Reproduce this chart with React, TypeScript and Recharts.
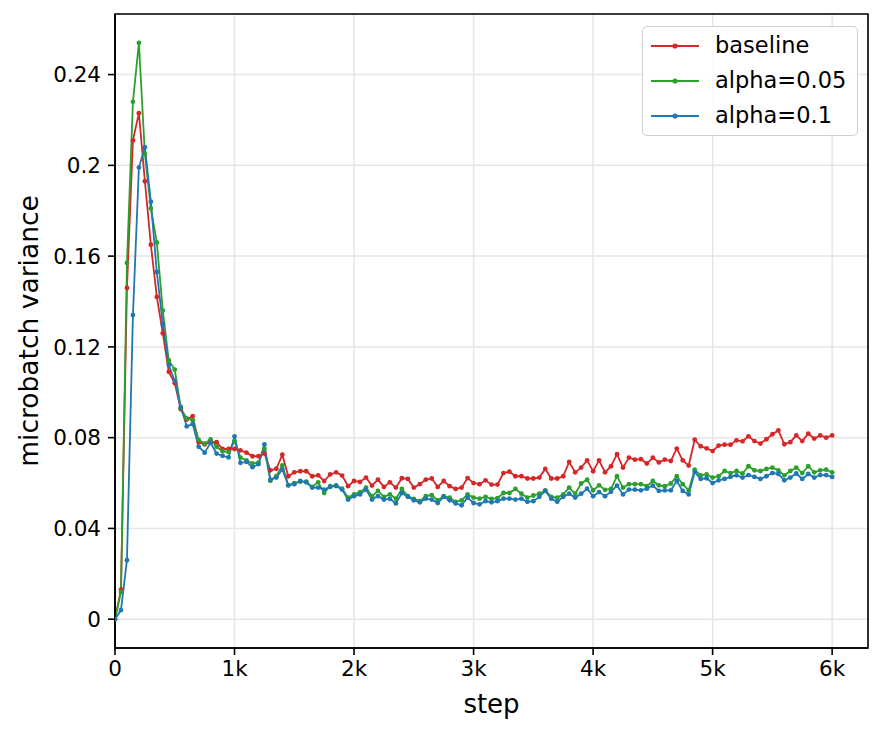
import { CartesianGrid, Line, LineChart, ReferenceArea, XAxis, YAxis } from 'recharts';

const STEP = 50;

const baseline = [
  0, 0.013, 0.146, 0.211, 0.223, 0.193, 0.165, 0.142, 0.126, 0.109,
  0.104, 0.0925, 0.088, 0.0895, 0.078, 0.077, 0.078, 0.078, 0.075, 0.075,
  0.075, 0.0744, 0.0734, 0.0718, 0.0718, 0.073, 0.0656, 0.0663, 0.0725, 0.063,
  0.0647, 0.0652, 0.0652, 0.063, 0.0634, 0.0609, 0.0638, 0.0647, 0.0633, 0.0586,
  0.0609, 0.0605, 0.0624, 0.0589, 0.0615, 0.0583, 0.0603, 0.058, 0.0621, 0.0618,
  0.058, 0.0595, 0.0615, 0.062, 0.0583, 0.0609, 0.0586, 0.0574, 0.058, 0.0622,
  0.06, 0.0595, 0.0612, 0.0593, 0.0593, 0.0644, 0.065, 0.063, 0.063, 0.062,
  0.062, 0.0624, 0.0662, 0.062, 0.062, 0.063, 0.0693, 0.0647, 0.0668, 0.07,
  0.0652, 0.07, 0.0647, 0.0674, 0.0727, 0.0668, 0.0712, 0.0703, 0.0705, 0.0686,
  0.0712, 0.0691, 0.0703, 0.0697, 0.0752, 0.07, 0.0677, 0.0791, 0.0762, 0.0753,
  0.0741, 0.0765, 0.0769, 0.0769, 0.0788, 0.0784, 0.0806, 0.0785, 0.0774, 0.0793,
  0.0815, 0.0832, 0.0771, 0.078, 0.081, 0.0785, 0.0818, 0.0796, 0.081, 0.08,
  0.081,
];

const alpha005 = [
  0, 0.012, 0.157, 0.228, 0.254, 0.205, 0.181, 0.166, 0.136, 0.114,
  0.11, 0.093, 0.0885, 0.0877, 0.079, 0.0774, 0.0792, 0.076, 0.074, 0.0737,
  0.0785, 0.0712, 0.07, 0.0686, 0.069, 0.0752, 0.061, 0.063, 0.0678, 0.059,
  0.06, 0.0606, 0.0606, 0.0583, 0.0603, 0.0556, 0.0586, 0.059, 0.0575, 0.0536,
  0.055, 0.056, 0.058, 0.0542, 0.0565, 0.0539, 0.055, 0.0531, 0.0574, 0.0542,
  0.053, 0.052, 0.0542, 0.0547, 0.0524, 0.0542, 0.0536, 0.0517, 0.0524, 0.055,
  0.0536, 0.0531, 0.0539, 0.053, 0.0533, 0.0556, 0.0556, 0.0574, 0.0553, 0.0536,
  0.0545, 0.0553, 0.0568, 0.0539, 0.0536, 0.055, 0.058, 0.0553, 0.0598, 0.0615,
  0.0568, 0.059, 0.057, 0.0574, 0.063, 0.058, 0.0595, 0.0595, 0.0595, 0.0586,
  0.0609, 0.059, 0.0586, 0.0598, 0.063, 0.0595, 0.0568, 0.0659, 0.0634, 0.0638,
  0.0624, 0.063, 0.0653, 0.0644, 0.0653, 0.0642, 0.0674, 0.0656, 0.0653, 0.0662,
  0.0668, 0.0656, 0.0634, 0.0653, 0.0668, 0.0644, 0.0674, 0.0647, 0.0656, 0.0659,
  0.0647,
];

const alpha01 = [
  0, 0.004, 0.026, 0.134, 0.199, 0.208, 0.184, 0.153, 0.13, 0.112,
  0.105, 0.0935, 0.085, 0.086, 0.076, 0.0734, 0.0777, 0.073, 0.072, 0.0713,
  0.0806, 0.0689, 0.0693, 0.067, 0.0683, 0.077, 0.0615, 0.0624, 0.066, 0.059,
  0.0595, 0.0609, 0.0603, 0.058, 0.058, 0.0571, 0.0583, 0.0587, 0.0571, 0.0527,
  0.0542, 0.055, 0.0571, 0.0527, 0.0542, 0.0527, 0.053, 0.051, 0.0556, 0.0539,
  0.0524, 0.0515, 0.0531, 0.0527, 0.0512, 0.0539, 0.0524, 0.051, 0.0502, 0.0536,
  0.0512, 0.0506, 0.052, 0.0515, 0.052, 0.0531, 0.0531, 0.0527, 0.0531, 0.0517,
  0.052, 0.0539, 0.0565, 0.0531, 0.0518, 0.0539, 0.0553, 0.0536, 0.0553, 0.0575,
  0.0542, 0.056, 0.0542, 0.0562, 0.0589, 0.055, 0.0571, 0.0571, 0.0568, 0.0575,
  0.0589, 0.0565, 0.0568, 0.0568, 0.0609, 0.0565, 0.055, 0.0649, 0.0618, 0.0621,
  0.06, 0.0612, 0.0618, 0.0627, 0.0634, 0.0624, 0.0635, 0.0627, 0.0618, 0.063,
  0.0644, 0.064, 0.0612, 0.0624, 0.0642, 0.0618, 0.064, 0.0624, 0.0635, 0.0635,
  0.0627,
];

const xTicks = [0, 1000, 2000, 3000, 4000, 5000, 6000];
const yTicks = [0, 0.04, 0.08, 0.12, 0.16, 0.2, 0.24];

const X_DOMAIN: [number, number] = [0, 6300];
const Y_DOMAIN: [number, number] = [-0.0127, 0.2667];

const data = baseline.map((v, i) => ({
  step: i * STEP,
  baseline: v,
  a005: alpha005[i],
  a01: alpha01[i],
}));

const series = [
  { key: 'baseline', name: 'baseline', color: '#d62728' },
  { key: 'a005', name: 'alpha=0.05', color: '#2ca02c' },
  { key: 'a01', name: 'alpha=0.1', color: '#1f77b4' },
];

const FONT = '"DejaVu Sans", sans-serif';

// legend drawn as a plain overlay so it doesn't eat into the plot area
function LegendBox() {
  return (
    <div
      style={{
        position: 'absolute',
        left: 642,
        top: 26,
        border: '1.5px solid #d0d0d0',
        borderRadius: 5,
        background: 'rgba(255,255,255,0.85)',
        width: 216,
        height: 110,
        boxSizing: 'border-box',
        paddingTop: 1,
        fontFamily: FONT,
        fontSize: 22.5,
        color: '#000',
      }}
    >
      {series.map((s) => (
        <div key={s.key} style={{ display: 'flex', alignItems: 'center', height: 35 }}>
          <svg width={65} height={20} style={{ marginLeft: 7 }}>
            <line x1={1} y1={10} x2={49} y2={10} stroke={s.color} strokeWidth={2} />
            <circle cx={25} cy={10} r={2.6} fill={s.color} />
          </svg>
          <span style={{ lineHeight: '35px' }}>{s.name}</span>
        </div>
      ))}
    </div>
  );
}

export default function App() {
  return (
    <div style={{ position: 'absolute', left: 0, top: 0, width: 884, height: 734, background: '#fff' }}>
      <LineChart
        width={884}
        height={734}
        data={data}
        margin={{ top: 14, right: 16, bottom: 0, left: 0 }}
        style={{ fontFamily: FONT }}
      >
        <CartesianGrid stroke="#e6e6e6" strokeWidth={1.5} />
        <XAxis
          dataKey="step"
          type="number"
          domain={X_DOMAIN}
          allowDataOverflow
          ticks={xTicks}
          tickFormatter={(v: number) => (v === 0 ? '0' : `${v / 1000}k`)}
          height={86}
          tickSize={7}
          tickMargin={6}
          stroke="#000"
          tick={{ fill: '#000', fontSize: 21.5 }}
          axisLine={{ stroke: '#000', strokeWidth: 1.6 }}
          tickLine={{ stroke: '#000', strokeWidth: 1.6 }}
          label={{ value: 'step', position: 'insideBottom', offset: 21, fill: '#000', fontSize: 26 }}
        />
        <YAxis
          type="number"
          domain={Y_DOMAIN}
          allowDataOverflow
          ticks={yTicks}
          tickFormatter={(v: number) => (v === 0 ? '0' : String(+v.toFixed(2)))}
          width={115}
          tickSize={7}
          tickMargin={7}
          stroke="#000"
          tick={{ fill: '#000', fontSize: 21.5 }}
          axisLine={{ stroke: '#000', strokeWidth: 1.6 }}
          tickLine={{ stroke: '#000', strokeWidth: 1.6 }}
          label={{
            value: 'microbatch variance',
            angle: -90,
            position: 'insideLeft',
            offset: 29,
            fill: '#000',
            fontSize: 26.5,
            style: { textAnchor: 'middle' },
          }}
        />
        <ReferenceArea
          x1={X_DOMAIN[0]}
          x2={X_DOMAIN[1]}
          y1={Y_DOMAIN[0]}
          y2={Y_DOMAIN[1]}
          fill="none"
          stroke="#000"
          strokeWidth={1.6}
          ifOverflow="visible"
        />
        {series.map((s) => (
          <Line
            key={s.key}
            dataKey={s.key}
            name={s.name}
            stroke={s.color}
            strokeWidth={1.8}
            dot={{ r: 2.4, fill: s.color, stroke: s.color, strokeWidth: 0 }}
            activeDot={false}
            isAnimationActive={false}
          />
        ))}
      </LineChart>
      <LegendBox />
    </div>
  );
}
